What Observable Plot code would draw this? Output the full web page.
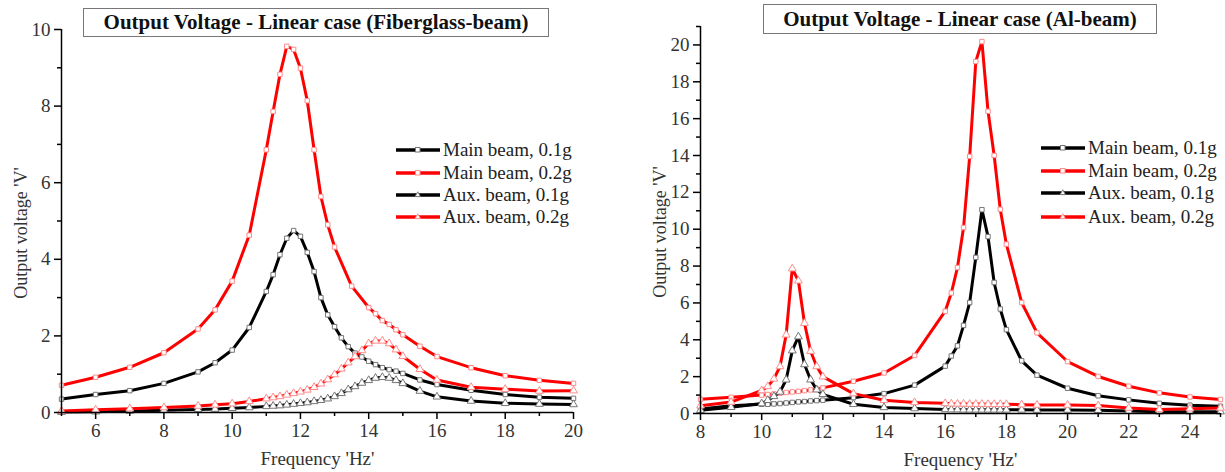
<!DOCTYPE html>
<html><head><meta charset="utf-8">
<script src="https://cdn.jsdelivr.net/npm/d3@7"></script>
<script src="https://cdn.jsdelivr.net/npm/@observablehq/plot@0.6"></script>
<style>
body{margin:0;background:#fff;}
#wrap{position:relative;width:1225px;height:472px;overflow:hidden;font-family:"Liberation Serif","Times New Roman",serif;background:#fff;}
.panel{position:absolute;top:0;}
.title{position:absolute;border:1px solid #777;box-sizing:border-box;display:flex;align-items:center;justify-content:center;font-weight:bold;font-size:21px;color:#111;background:#fff;white-space:nowrap;}
.lg-row{position:absolute;display:flex;align-items:center;white-space:nowrap;font-size:19px;color:#222;height:22px;}
.lg-row svg{margin-right:3px;}
</style></head><body><div id="wrap"></div>
<script>
// ---------- Left panel: Fiberglass beam ----------
const titleLeft = "Output Voltage - Linear case (Fiberglass-beam)";
const xLeftMain01 = [5,6,7,8,9,9.5,10,10.5,11,11.2,11.4,11.6,11.8,12,12.2,12.4,12.6,12.8,13,13.2,13.4,13.6,13.8,14,14.2,14.4,14.6,14.8,15,15.5,16,17,18,19,20];
const yLeftMain01 = [0.35,0.47,0.57,0.76,1.06,1.3,1.63,2.22,3.16,3.6,4.12,4.55,4.75,4.6,4.18,3.68,3.0,2.55,2.24,1.95,1.72,1.55,1.45,1.34,1.25,1.17,1.12,1.08,1.02,0.85,0.73,0.58,0.47,0.4,0.37];
const xLeftMain02 = [5,6,7,8,9,9.5,10,10.5,11,11.2,11.4,11.6,11.8,12,12.2,12.4,12.6,12.8,13,13.5,14,14.2,14.4,14.6,14.8,15,15.5,16,17,18,19,20];
const yLeftMain02 = [0.71,0.92,1.18,1.56,2.18,2.68,3.43,4.63,6.86,7.86,8.83,9.56,9.48,8.99,8.14,6.86,5.64,4.9,4.32,3.3,2.74,2.58,2.4,2.3,2.16,2.03,1.73,1.46,1.17,0.96,0.84,0.76];
const xLeftAux = [5,6,7,8,9,9.5,10,10.5,11,11.2,11.4,11.6,11.8,12,12.2,12.4,12.6,12.8,13,13.2,13.4,13.6,13.8,14,14.2,14.4,14.6,14.8,15,15.5,16,17,18,19,20];
const yLeftAux01 = [0.01,0.02,0.04,0.06,0.08,0.09,0.11,0.13,0.16,0.17,0.18,0.2,0.22,0.24,0.26,0.29,0.32,0.36,0.42,0.5,0.6,0.68,0.77,0.84,0.9,0.92,0.9,0.84,0.76,0.56,0.41,0.3,0.24,0.22,0.21];
const yLeftAux02 = [0.04,0.07,0.1,0.13,0.17,0.2,0.23,0.29,0.36,0.39,0.42,0.46,0.5,0.54,0.59,0.66,0.75,0.86,0.99,1.14,1.3,1.46,1.62,1.8,1.87,1.87,1.8,1.64,1.47,1.13,0.85,0.66,0.61,0.56,0.57];
const xTicksLeft = [6,8,10,12,14,16,18,20];
const xMinorLeft = [5,7,9,11,13,15,17,19];
const yTicksLeft = [0,2,4,6,8,10];
const yMinorLeft = [1,3,5,7,9];

// ---------- Right panel: Al beam ----------
const titleRight = "Output Voltage - Linear case (Al-beam)";
const xRight = [8,9,10,10.2,10.4,10.6,10.8,11,11.2,11.4,11.6,11.8,12,13,14,15,16,16.2,16.4,16.6,16.8,17,17.2,17.4,17.6,17.8,18,18.5,19,20,21,22,23,24,25];
const yRightMain01 = [0.25,0.42,0.5,0.5,0.52,0.54,0.57,0.6,0.63,0.65,0.68,0.7,0.72,0.86,1.08,1.54,2.57,3.12,3.67,4.78,6.02,8.47,11.06,9.6,7.11,5.67,4.55,2.86,2.08,1.37,0.96,0.74,0.55,0.45,0.39];
const yRightMain02 = [0.77,0.88,1.0,1.03,1.06,1.1,1.14,1.17,1.2,1.24,1.28,1.33,1.39,1.75,2.2,3.15,5.55,6.54,7.92,10.09,13.95,19.1,20.18,16.4,14.0,11.08,9.19,6.02,4.38,2.82,2.01,1.48,1.12,0.9,0.76];
const yRightAux01 = [0.18,0.34,0.54,0.72,0.93,1.17,1.83,3.41,4.17,2.66,1.83,1.29,1.04,0.5,0.33,0.27,0.22,0.21,0.21,0.2,0.2,0.2,0.2,0.2,0.2,0.2,0.2,0.2,0.19,0.19,0.18,0.13,0.1,0.1,0.1];
const yRightAux02 = [0.42,0.62,1.25,1.47,1.88,2.55,4.27,7.86,7.2,4.9,3.38,2.55,2.0,1.08,0.72,0.6,0.55,0.53,0.52,0.52,0.51,0.51,0.51,0.5,0.5,0.5,0.5,0.48,0.46,0.46,0.43,0.3,0.22,0.26,0.3];
const xTicksRight = [8,10,12,14,16,18,20,22,24];
const xMinorRight = [9,11,13,15,17,19,21,23,25];
const yTicksRight = [0,2,4,6,8,10,12,14,16,18,20];
const yMinorRight = [1,3,5,7,9,11,13,15,17,19,21];

const seriesNames = ["Main beam, 0.1g","Main beam, 0.2g","Aux. beam, 0.1g","Aux. beam, 0.2g"];
const seriesColors = ["#000000","#ff0000","#000000","#ff0000"];
const markerStrokes = ["#777777","#ff8c8c","#777777","#ff8c8c"];
const markerSymbols = ["square","square","triangle","triangle"];

const xLabel = "Frequency 'Hz'";
const yLabel = "Output voltage 'V'";
const fontFam = "'Liberation Serif','Times New Roman',serif";

function buildPanel(cfg){
  const marks = [];
  cfg.series.forEach((s, i) => {
    const data = s.x.map((x, j) => ({x, y: s.y[j]}));
    marks.push(Plot.line(data, {x: "x", y: "y", stroke: seriesColors[i], strokeWidth: 3}));
    marks.push(Plot.dot(data, {x: "x", y: "y", symbol: markerSymbols[i], r: markerSymbols[i] === "square" ? 2.5 : 2.9,
      fill: "white", stroke: markerStrokes[i], strokeWidth: 1}));
  });
  marks.push(Plot.ruleX([cfg.xDomain[0]], {stroke: "#000", strokeWidth: 1.5}));
  marks.push(Plot.ruleY([0], {stroke: "#000", strokeWidth: 1.5}));
  marks.push(Plot.axisX({ticks: cfg.xMinor, tickSize: 4, tickFormat: () => "", label: null, stroke: "#000", strokeWidth: 1.5}));
  marks.push(Plot.axisY({ticks: cfg.yMinor, tickSize: 4, tickFormat: () => "", label: null, stroke: "#000", strokeWidth: 1.5}));
  marks.push(Plot.axisX({ticks: cfg.xTicks, tickSize: 7, tickPadding: 4, fontSize: 19, tickFormat: d => String(d),
    label: xLabel, labelAnchor: "center", labelArrow: "none", labelOffset: 52, stroke: "#000", strokeWidth: 1.5, color: "#333"}));
  marks.push(Plot.axisY({ticks: cfg.yTicks, tickSize: 7, tickPadding: 4, fontSize: 19, tickFormat: d => String(d),
    label: null, stroke: "#000", strokeWidth: 1.5, color: "#333"}));
  marks.push(Plot.text([yLabel], {frameAnchor: "left", textAnchor: "middle", rotate: -90, dx: -40, dy: 12, fontSize: 18, fill: "#333"}));
  return Plot.plot({
    width: cfg.width, height: 472,
    marginLeft: cfg.ml, marginRight: cfg.mr, marginTop: cfg.mt, marginBottom: cfg.mb,
    x: {domain: cfg.xDomain},
    y: {domain: cfg.yDomain},
    style: {fontFamily: fontFam, fontSize: "18px", color: "#333", background: "transparent", overflow: "visible"},
    marks
  });
}

const wrap = document.getElementById("wrap");

function addPanel(cfg){
  const div = document.createElement("div");
  div.className = "panel";
  div.style.left = cfg.left + "px";
  div.appendChild(buildPanel(cfg));
  wrap.appendChild(div);
  const t = document.createElement("div");
  t.className = "title";
  t.textContent = cfg.title;
  Object.assign(t.style, {left: cfg.titleBox[0] + "px", top: cfg.titleBox[1] + "px", width: cfg.titleBox[2] + "px", height: cfg.titleBox[3] + "px"});
  wrap.appendChild(t);
  seriesNames.forEach((name, i) => {
    const row = document.createElement("div");
    row.className = "lg-row";
    row.style.left = cfg.legendX + "px";
    row.style.top = (cfg.legendY[i] - 11) + "px";
    const sym = markerSymbols[i] === "square"
      ? `<rect x="19.5" y="2.5" width="4.5" height="4.5" fill="white" stroke="${markerStrokes[i]}" stroke-width="1"/>`
      : `<path d="M21.75,1.8 L24.4,6.6 L19.1,6.6 Z" fill="white" stroke="${markerStrokes[i]}" stroke-width="1"/>`;
    row.innerHTML = `<svg width="44" height="10" viewBox="0 0 44 10"><line x1="0" y1="5" x2="44" y2="5" stroke="${seriesColors[i]}" stroke-width="3.5"/>${sym}</svg><span>${name}</span>`;
    wrap.appendChild(row);
  });
}

addPanel({
  left: 0, width: 600, ml: 61, mr: 27, mt: 29, mb: 60,
  xDomain: [5, 20], yDomain: [0, 10],
  xTicks: xTicksLeft, xMinor: xMinorLeft, yTicks: yTicksLeft, yMinor: yMinorLeft,
  series: [
    {x: xLeftMain01, y: yLeftMain01},
    {x: xLeftMain02, y: yLeftMain02},
    {x: xLeftAux, y: yLeftAux01},
    {x: xLeftAux, y: yLeftAux02}
  ],
  title: titleLeft, titleBox: [83, 8, 466, 29],
  legendX: 396, legendY: [150, 173, 195, 217]
});

addPanel({
  left: 600, width: 625, ml: 100, mr: 5, mt: 26, mb: 59,
  xDomain: [8, 25], yDomain: [0, 21],
  xTicks: xTicksRight, xMinor: xMinorRight, yTicks: yTicksRight, yMinor: yMinorRight,
  series: [
    {x: xRight, y: yRightMain01},
    {x: xRight, y: yRightMain02},
    {x: xRight, y: yRightAux01},
    {x: xRight, y: yRightAux02}
  ],
  title: titleRight, titleBox: [763, 4, 394, 30],
  legendX: 1041, legendY: [148, 171, 193, 217]
});
</script></body></html>
